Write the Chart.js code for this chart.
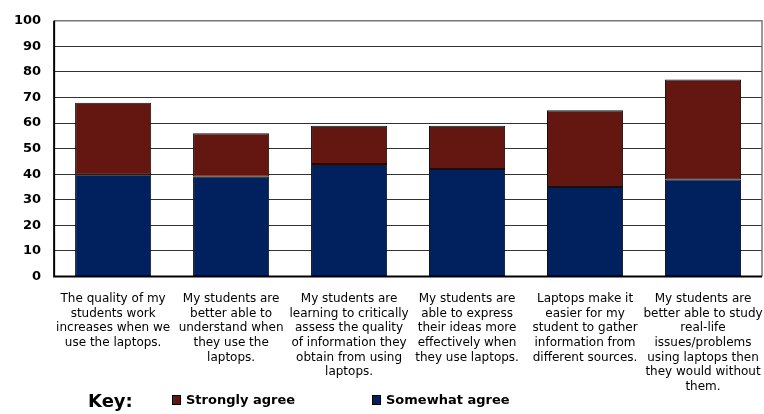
<!DOCTYPE html>
<html>
<head>
<meta charset="utf-8">
<script src="https://cdn.jsdelivr.net/npm/chart.js@4/dist/chart.umd.min.js"></script>
<style>
  html, body { margin: 0; padding: 0; background: #fff; }
  #wrap { position: relative; width: 764px; height: 414px; }
</style>
</head>
<body>
<div id="wrap"><canvas id="myChart" width="764" height="414"></canvas></div>
<script>
// categories (each line as shown under the bars)
const categories = [
    ['The quality of my', 'students work', 'increases when we', 'use the laptops.'],
    ['My students are', 'better able to', 'understand when', 'they use the', 'laptops.'],
    ['My students are', 'learning to critically', 'assess the quality', 'of information they', 'obtain from using', 'laptops.'],
    ['My students are', 'able to express', 'their ideas more', 'effectively when', 'they use laptops.'],
    ['Laptops make it', 'easier for my', 'student to gather', 'information from', 'different sources.'],
    ['My students are', 'better able to study', 'real-life', 'issues/problems', 'using laptops then', 'they would without', 'them.']
];
const somewhatAgree = [40, 39, 44, 42, 35, 38];
const stronglyAgree = [28, 17, 15, 17, 30, 39];
const yTicks = [0, 10, 20, 30, 40, 50, 60, 70, 80, 90, 100];

const FONT = 'DejaVu Sans, Verdana, sans-serif';

// legend drawn by hand: "Key:" then the two series
const keyLegend = {
    id: 'keyLegend',
    afterDraw(chart) {
        const ctx = chart.ctx;
        const ds = chart.data.datasets;
        ctx.save();
        ctx.textBaseline = 'middle';
        ctx.fillStyle = '#000';
        ctx.font = 'bold 18px ' + FONT;
        ctx.fillText('Key:', 88, 402);
        const order = [1, 0];
        const xs = [172, 372];
        ctx.font = 'bold 13px ' + FONT;
        order.forEach((idx, k) => {
            const x = xs[k];
            ctx.fillStyle = ds[idx].backgroundColor;
            ctx.fillRect(x, 395, 9, 10);
            ctx.strokeStyle = '#000';
            ctx.lineWidth = 1;
            ctx.strokeRect(x + 0.5, 395.5, 8, 9);
            ctx.fillStyle = '#000';
            ctx.fillText(ds[idx].label, x + 14, 401);
        });
        ctx.restore();
    }
};

// grey frame round the plot area, black axes on left and bottom
const frame = {
    id: 'frame',
    afterDatasetsDraw(chart) {
        const a = chart.chartArea;
        const ctx = chart.ctx;
        ctx.save();
        ctx.strokeStyle = '#777';
        ctx.lineWidth = 1.5;
        ctx.beginPath();
        ctx.moveTo(a.left, a.top);
        ctx.lineTo(a.right, a.top);
        ctx.lineTo(a.right, a.bottom);
        ctx.stroke();
        ctx.strokeStyle = '#000';
        ctx.lineWidth = 2;
        ctx.beginPath();
        ctx.moveTo(a.left, a.top);
        ctx.lineTo(a.left, a.bottom);
        ctx.lineTo(a.right, a.bottom);
        ctx.stroke();
        ctx.restore();
    }
};

const ctx = document.getElementById('myChart').getContext('2d');
new Chart(ctx, {
    type: 'bar',
    data: {
        labels: categories,
        datasets: [
            {
                label: 'Somewhat agree',
                data: somewhatAgree,
                backgroundColor: '#00215e',
                borderColor: '#111',
                borderWidth: 1,
                borderSkipped: false
            },
            {
                label: 'Strongly agree',
                data: stronglyAgree,
                backgroundColor: '#641711',
                borderColor: '#111',
                borderWidth: 1,
                borderSkipped: false
            }
        ]
    },
    options: {
        responsive: false,
        animation: false,
        layout: { padding: { left: 1, right: 2, top: 10, bottom: 13 } },
        datasets: { bar: { barPercentage: 0.645, categoryPercentage: 1 } },
        plugins: {
            legend: { display: false },
            tooltip: { enabled: false }
        },
        scales: {
            x: {
                stacked: true,
                grid: { display: false },
                border: { display: false },
                afterFit(scale) {
                    // let the last label hang over the edge like the original
                    scale.paddingLeft = 0;
                    scale.paddingRight = 0;
                },
                ticks: {
                    color: '#000',
                    font: { family: FONT, size: 12, lineHeight: 1.22 },
                    padding: 7,
                    maxRotation: 0,
                    autoSkip: false
                }
            },
            y: {
                stacked: true,
                min: 0,
                max: 100,
                afterBuildTicks(axis) {
                    axis.ticks = yTicks.map(v => ({ value: v }));
                },
                grid: { color: '#333', lineWidth: 1, drawTicks: false },
                border: { display: false },
                ticks: {
                    color: '#000',
                    font: { family: FONT, size: 13, weight: 'bold' },
                    padding: 13
                }
            }
        }
    },
    plugins: [frame, keyLegend]
});
</script>
</body>
</html>
